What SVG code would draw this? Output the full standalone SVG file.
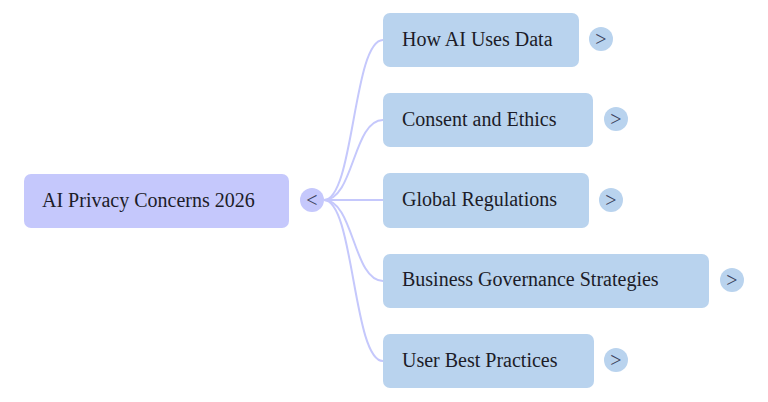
<svg xmlns="http://www.w3.org/2000/svg" width="768" height="402" viewBox="0 0 768 402">
<style>
.root{fill:#c5c8fc}
.child{fill:#b9d3ee}
.t{font-family:"Liberation Serif","Times New Roman",serif;font-size:20px;fill:#1c1c28}
.tg{font-family:"Liberation Serif","Times New Roman",serif;font-size:20px;fill:#3a3f5a}
.c{fill:none;stroke:#c5c8fc;stroke-width:2}
.rc{fill:#c5c8fc}
.cc{fill:#b9d3ee}
</style>
<rect width="768" height="402" fill="#ffffff"/>
<g id="connectors">
<path class="c" d="M324,200 C354,200 353,40 383,40"/>
<path class="c" d="M324,200 C354,200 353,120 383,120"/>
<path class="c" d="M324,200 L383,200"/>
<path class="c" d="M324,200 C354,200 353,281 383,281"/>
<path class="c" d="M324,200 C354,200 353,361 383,361"/>
</g>
<g id="root">
<rect class="root" x="24" y="174" width="265" height="54" rx="7"/>
<text class="t" x="42" y="207">AI Privacy Concerns 2026</text>
<circle class="rc" cx="312" cy="200" r="12"/>
<text class="tg" x="312" y="206.5" text-anchor="middle">&lt;</text>
</g>
<g id="n1">
<rect class="child" x="383" y="13" width="196" height="54" rx="7"/>
<text class="t" x="402" y="46">How AI Uses Data</text>
<circle class="cc" cx="601" cy="39" r="12"/>
<text class="tg" x="601" y="45.5" text-anchor="middle">&gt;</text>
</g>
<g id="n2">
<rect class="child" x="383" y="93" width="210" height="54" rx="7"/>
<text class="t" x="402" y="126">Consent and Ethics</text>
<circle class="cc" cx="616" cy="119" r="12"/>
<text class="tg" x="616" y="125.5" text-anchor="middle">&gt;</text>
</g>
<g id="n3">
<rect class="child" x="383" y="173" width="206" height="55" rx="7"/>
<text class="t" x="402" y="206">Global Regulations</text>
<circle class="cc" cx="611" cy="200" r="12"/>
<text class="tg" x="611" y="206.5" text-anchor="middle">&gt;</text>
</g>
<g id="n4">
<rect class="child" x="383" y="254" width="326" height="54" rx="7"/>
<text class="t" x="402" y="286">Business Governance Strategies</text>
<circle class="cc" cx="732" cy="280" r="12"/>
<text class="tg" x="732" y="286.5" text-anchor="middle">&gt;</text>
</g>
<g id="n5">
<rect class="child" x="383" y="334" width="211" height="54" rx="7"/>
<text class="t" x="402" y="367">User Best Practices</text>
<circle class="cc" cx="616" cy="360" r="12"/>
<text class="tg" x="616" y="366.5" text-anchor="middle">&gt;</text>
</g>
</svg>
